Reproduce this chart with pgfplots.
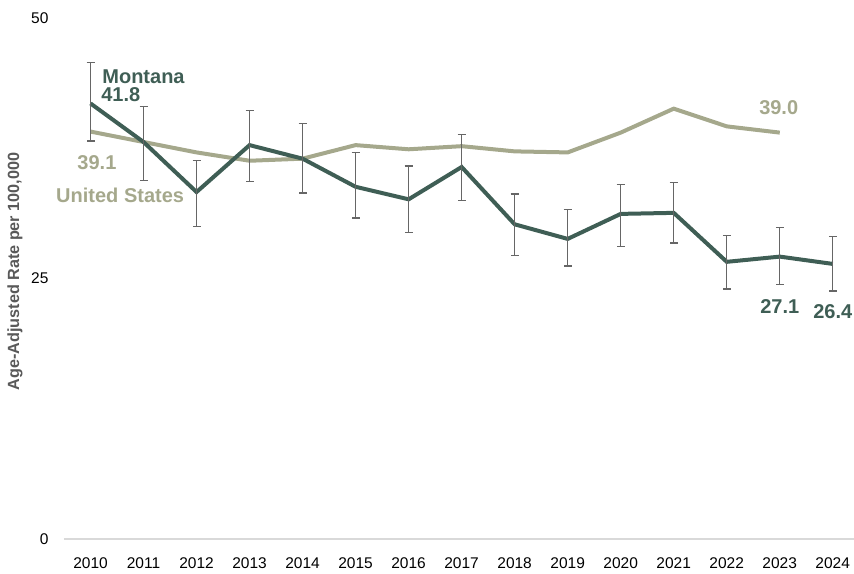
\documentclass[border=0pt]{standalone}
\usepackage{pgfplots}
\pgfplotsset{compat=1.18}
\usepackage{fontspec}
\setmainfont{Liberation Sans}
\definecolor{mt}{HTML}{3F5E55}
\definecolor{us}{HTML}{A5A88C}
\definecolor{lab}{HTML}{595959}
\definecolor{axl}{HTML}{D9D9D9}
\definecolor{eb}{HTML}{666666}
\begin{document}
\begin{tikzpicture}
\begin{axis}[
  at={(0,0)}, anchor=origin,
  scale only axis, width=790pt, height=521pt,
  xmin=2009.5, xmax=2024.4, ymin=0, ymax=50,
  axis line style={draw=none},
  xtick={2010,...,2024},
  xticklabel style={/pgf/number format/1000 sep={}, font=\fontsize{15.5}{17}\selectfont, text=black},
  ytick={0,25,50},
  yticklabel style={font=\fontsize{15.5}{17}\selectfont, text=black},
  /pgf/number format/assume math mode=true,
  major tick length=0pt,
  xticklabel shift=15pt,
  yticklabel shift=12pt,
  extra y ticks={0}, extra y tick labels={},
  extra y tick style={ymajorgrids=true, major grid style={color=axl, line width=1.2pt}},
  ylabel={\bfseries Age-Adjusted Rate per 100,000},
  ylabel style={font=\fontsize{16.2}{18}\selectfont, text=lab, at={([xshift=-49pt,yshift=7pt]axis description cs:0,0.5)}, anchor=center},
  clip=false,
]
\addplot[us, line width=4pt, no markers] coordinates {
(2010,39.1) (2011,38.1) (2012,37.1) (2013,36.3) (2014,36.5) (2015,37.8) (2016,37.4)
(2017,37.7) (2018,37.2) (2019,37.1) (2020,39.0) (2021,41.3) (2022,39.6) (2023,39.0)
};
\addplot[mt, line width=4pt, no markers,
  error bars/.cd, y dir=both, y explicit,
  error bar style={color=eb, line width=1.2pt},
  error mark options={color=eb, line width=1.2pt, rotate=90, mark size=4pt}]
coordinates {
(2010,41.8) += (0,3.9) -= (0,3.6)
(2011,38.1) += (0,3.4) -= (0,3.7)
(2012,33.3) += (0,3.0) -= (0,3.3)
(2013,37.8) += (0,3.3) -= (0,3.5)
(2014,36.5) += (0,3.4) -= (0,3.3)
(2015,33.8) += (0,3.3) -= (0,3.0)
(2016,32.6) += (0,3.2) -= (0,3.2)
(2017,35.7) += (0,3.1) -= (0,3.2)
(2018,30.2) += (0,2.9) -= (0,3.0)
(2019,28.8) += (0,2.8) -= (0,2.6)
(2020,31.2) += (0,2.8) -= (0,3.1)
(2021,31.3) += (0,2.9) -= (0,2.9)
(2022,26.6) += (0,2.5) -= (0,2.6)
(2023,27.1) += (0,2.8) -= (0,2.7)
(2024,26.4) += (0,2.6) -= (0,2.6)
};
\node[anchor=west, text=mt, font=\fontsize{20}{22}\selectfont\bfseries, inner sep=0pt] at (axis cs:2010.22,44.4) {Montana};
\node[anchor=west, text=mt, font=\fontsize{20}{22}\selectfont\bfseries, inner sep=0pt] at (axis cs:2010.2,42.6) {41.8};
\node[anchor=west, text=us, font=\fontsize{20}{22}\selectfont\bfseries, inner sep=0pt] at (axis cs:2009.75,36.15) {39.1};
\node[anchor=west, text=us, font=\fontsize{20}{22}\selectfont\bfseries, inner sep=0pt] at (axis cs:2009.35,33.0) {United States};
\node[text=us, font=\fontsize{20}{22}\selectfont\bfseries, inner sep=0pt] at (axis cs:2022.98,41.4) {39.0};
\node[text=mt, font=\fontsize{20}{22}\selectfont\bfseries, inner sep=0pt] at (axis cs:2023,22.3) {27.1};
\node[text=mt, font=\fontsize{20}{22}\selectfont\bfseries, inner sep=0pt] at (axis cs:2024,21.8) {26.4};
\end{axis}
\pgfresetboundingbox
\path[use as bounding box] (-64pt,-34pt) rectangle (790pt,539pt);
\end{tikzpicture}
\end{document}
